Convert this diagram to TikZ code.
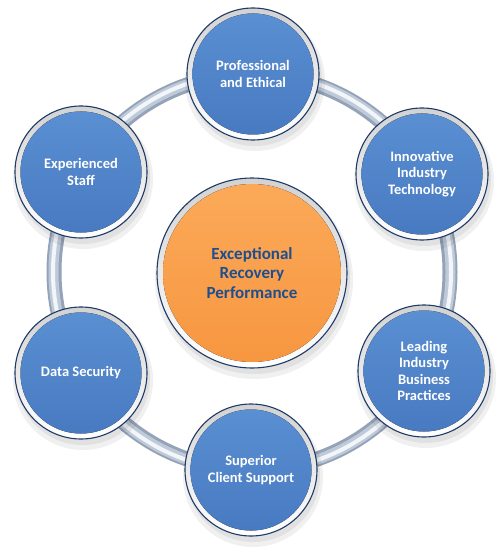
\documentclass[tikz,border=0pt]{standalone}
\usepackage{fontspec}
\setmainfont{Carlito}
\definecolor{navy}{HTML}{1F3A66}
\definecolor{blueA}{HTML}{5B90D3}
\definecolor{blueB}{HTML}{4779C0}
\definecolor{orangeA}{HTML}{FBAA5A}
\definecolor{orangeB}{HTML}{F7963F}
\definecolor{ctext}{HTML}{1F4E8F}
\definecolor{ringdark}{HTML}{95A3B8}
\definecolor{ringmid}{HTML}{BFCAD9}
\definecolor{ringlight}{HTML}{F2F5F9}
\tikzset{
  bevel/.style={circle, draw=navy, line width=1.1pt, top color=gray!35, bottom color=white, inner sep=0pt},
  bubble/.style={bevel, minimum size=132pt, text=white, align=center,
    font=\bfseries\fontsize{14.5}{16.5}\selectfont,
    path picture={\fill[top color=blueA, bottom color=blueB] (path picture bounding box.center) circle (60.5pt);}},
  hub/.style={bevel, minimum size=190pt, text=ctext, align=center,
    font=\bfseries\fontsize{17}{19.5}\selectfont,
    path picture={\fill[top color=orangeA, bottom color=orangeB] (path picture bounding box.center) circle (89pt);}},
  shadowc/.style={fill=black, opacity=0.06}
}
\begin{document}
\begin{tikzpicture}[x=1pt,y=-1pt]
\useasboundingbox[fill=white] (0,0) rectangle (500,556);
% ring
\coordinate (ctr) at (252,272);
\draw[line width=15pt, ringdark] (ctr) circle (198);
\draw[line width=10pt, ringmid] (ctr) circle (198.5);
\draw[line width=4pt, ringlight] (ctr) circle (199);
% shadows
\foreach \p/\r in {{(253,74)}/66,{(422,174)}/66,{(424,371)}/66,{(251,470)}/66,{(81,373)}/66,{(81,172)}/66,{(252,273)}/95}{
  \fill[shadowc] \p ++(2,7) circle (\r+4);
  \fill[shadowc] \p ++(2,5) circle (\r+1);
}
\node[hub] (hub) at (252,273) {Exceptional\\Recovery\\Performance};
\node[bubble] (pe) at (253,74) {Professional\\and Ethical};
\node[bubble] (iit) at (422,174) {Innovative\\Industry\\Technology};
\node[bubble] (lib) at (424,371) {Leading\\Industry\\Business\\Practices};
\node[bubble] (scs) at (251,470) {Superior\\Client Support};
\node[bubble] (ds) at (81,373) {Data Security};
\node[bubble] (es) at (81,172) {Experienced\\Staff};
\end{tikzpicture}
\end{document}
